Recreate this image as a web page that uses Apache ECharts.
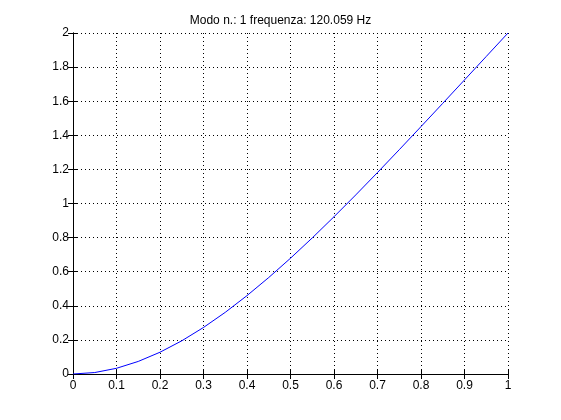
<!DOCTYPE html>
<html>
<head>
<meta charset="utf-8">
<script src="https://cdn.jsdelivr.net/npm/echarts@6/dist/echarts.min.js"></script>
<style>
html,body{margin:0;padding:0;background:#fff;}
#chart{width:561px;height:420px;}
</style>
</head>
<body>
<div id="chart"></div>
<script>
var titleText = 'Modo n.: 1 frequenza: 120.059 Hz';
var xPositions = [0, 0.05, 0.1, 0.15, 0.2, 0.25, 0.3, 0.35, 0.4, 0.45, 0.5, 0.55, 0.6, 0.65, 0.7, 0.75, 0.8, 0.85, 0.9, 0.95, 1.0];
var modeShape = [0, 0.0086, 0.0335, 0.0737, 0.1277, 0.1946, 0.2730, 0.3617, 0.4598, 0.5659, 0.6790, 0.7982, 0.9223, 1.0504, 1.1818, 1.3155, 1.4510, 1.5875, 1.7248, 1.8624, 2.0];
var xTicks = {min: 0, max: 1, interval: 0.1};
var yTicks = {min: 0, max: 2, interval: 0.2};

var points = xPositions.map(function (x, i) { return [x, modeShape[i]]; });
var font = 'Liberation Sans, Arial, Helvetica, sans-serif';

function fmt(v) {
  var s = (Math.round(v * 10) / 10).toString();
  return s;
}

var axisCommon = {
  type: 'value',
  axisLine: {show: true, lineStyle: {color: '#000', width: 1}},
  axisTick: {show: true, inside: true, length: 5, lineStyle: {color: '#000', width: 1}},
};

var chart = echarts.init(document.getElementById('chart'), null, {renderer: 'canvas'});
chart.setOption({
  animation: false,
  backgroundColor: '#ffffff',
  title: {
    text: titleText,
    left: 'center',
    top: 10,
    textStyle: {fontFamily: font, fontSize: 12, fontWeight: 'normal', color: '#000'}
  },
  grid: {left: 73, right: 53, top: 33, bottom: 46, show: false},
  xAxis: [
    Object.assign({}, axisCommon, {
      min: xTicks.min, max: xTicks.max, interval: xTicks.interval, position: 'bottom',
      axisLabel: {show: true, color: '#000', fontFamily: font, fontSize: 12, margin: 6, formatter: fmt},
      splitLine: {show: true, lineStyle: {color: '#000', type: [1, 3], width: 1}}
    }),
    Object.assign({}, axisCommon, {
      min: xTicks.min, max: xTicks.max, interval: xTicks.interval, position: 'top',
      axisLabel: {show: false}, splitLine: {show: false}
    })
  ],
  yAxis: [
    Object.assign({}, axisCommon, {
      min: yTicks.min, max: yTicks.max, interval: yTicks.interval, position: 'left',
      axisLabel: {show: true, color: '#000', fontFamily: font, fontSize: 12, margin: 4, formatter: fmt},
      splitLine: {show: true, lineStyle: {color: '#000', type: [1, 3], width: 1}}
    }),
    Object.assign({}, axisCommon, {
      min: yTicks.min, max: yTicks.max, interval: yTicks.interval, position: 'right',
      axisLabel: {show: false}, splitLine: {show: false}
    })
  ],
  series: [{
    type: 'line',
    data: points,
    xAxisIndex: 0,
    yAxisIndex: 0,
    showSymbol: false,
    symbol: 'none',
    smooth: false,
    lineStyle: {color: '#0000ff', width: 1},
    z: 5
  }]
});
</script>
</body>
</html>
